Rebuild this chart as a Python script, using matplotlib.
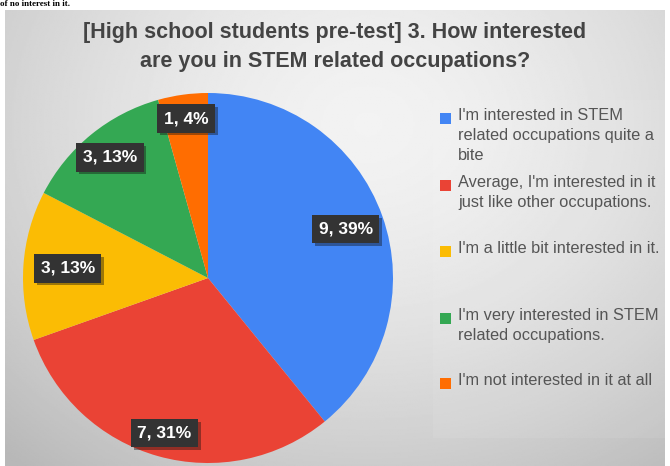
import numpy as np
import matplotlib
matplotlib.use("Agg")
import matplotlib.pyplot as plt
from matplotlib.patches import Rectangle
import matplotlib.patheffects as pe

# data
answers = [
    "I'm interested in STEM\nrelated occupations quite a\nbite",
    "Average, I'm interested in it\njust like other occupations.",
    "I'm a little bit interested in it.",
    "I'm very interested in STEM\nrelated occupations.",
    "I'm not interested in it at all",
]
counts = [9, 7, 3, 3, 1]
percents = [39, 31, 13, 13, 4]
colors = ["#4285f4", "#ea4335", "#fbbc04", "#34a853", "#ff6d01"]

title = "[High school students pre-test] 3. How interested\nare you in STEM related occupations?"

W, H = 670, 466
fig = plt.figure(figsize=(W / 100, H / 100), dpi=100)
fig.patch.set_facecolor("white")

# gray vignette background of the screenshot
bg = fig.add_axes([5 / W, 0, 660 / W, (H - 10) / H])
yy, xx = np.mgrid[0:1:300j, 0:1:400j]
d = np.sqrt(((xx - 0.55) / 0.75) ** 2 + ((yy - 0.25) / 0.9) ** 2)
shade = np.clip(0.95 - 0.2 * d ** 1.6, 0.72, 0.95)
bg.imshow(shade, cmap="gray", vmin=0, vmax=1, aspect="auto", extent=[0, 1, 1, 0])
bg.set_xlim(0, 1)
bg.set_ylim(1, 0)
bg.axis("off")

# line from the document above the screenshot
fig.text(0.0, 1.0, "of no interest in it.", fontsize=6.5, fontweight="bold",
         family="Liberation Serif", color="black", va="top", ha="left")

fig.text(0.5, 1 - 47 / H, title, ha="center", va="center", fontsize=15.5,
         fontweight="bold", family="Liberation Sans", color="#444444",
         linespacing=1.45)

# pie
cx, cy, r = 208, 278, 185
ax = fig.add_axes([(cx - r) / W, (H - cy - r) / H, 2 * r / W, 2 * r / H])
wedges, _ = ax.pie(counts, colors=colors, startangle=90, counterclock=False,
                   radius=1, wedgeprops=dict(linewidth=0))
ax.set_xlim(-1, 1)
ax.set_ylim(-1, 1)
ax.set_aspect("equal")
ax.axis("off")

label_dist = [0.79, 0.87, 0.76, 0.84, 0.87]
for w, c, p, dist in zip(wedges, counts, percents, label_dist):
    a = np.deg2rad((w.theta1 + w.theta2) / 2)
    t = ax.text(dist * np.cos(a), dist * np.sin(a), f"{c}, {p}%",
                ha="center", va="center", fontsize=12.5, fontweight="bold",
                family="Liberation Sans", color="white",
                bbox=dict(boxstyle="square,pad=0.38", fc="#333333", ec="none"))
    t.get_bbox_patch().set_path_effects(
        [pe.SimplePatchShadow(offset=(2, -2), alpha=0.4), pe.Normal()])

# legend panel and entries
fig.patches.append(Rectangle((433 / W, 1 - 438 / H), 232 / W, 338 / H,
                             transform=fig.transFigure, fc="white", alpha=0.07,
                             ec="none"))
legend_y = [118, 185, 251, 318, 383]
for lab, col, y in zip(answers, colors, legend_y):
    fig.patches.append(Rectangle((440 / W, 1 - (y + 6) / H), 11 / W, 11 / H,
                                 transform=fig.transFigure, fc=col, ec="none"))
    fig.text(458 / W, 1 - (y - 10) / H, lab, ha="left", va="top",
             fontsize=11.8, family="Liberation Sans", color="#555555",
             linespacing=1.42)

fig.savefig("out.png", dpi=100)
